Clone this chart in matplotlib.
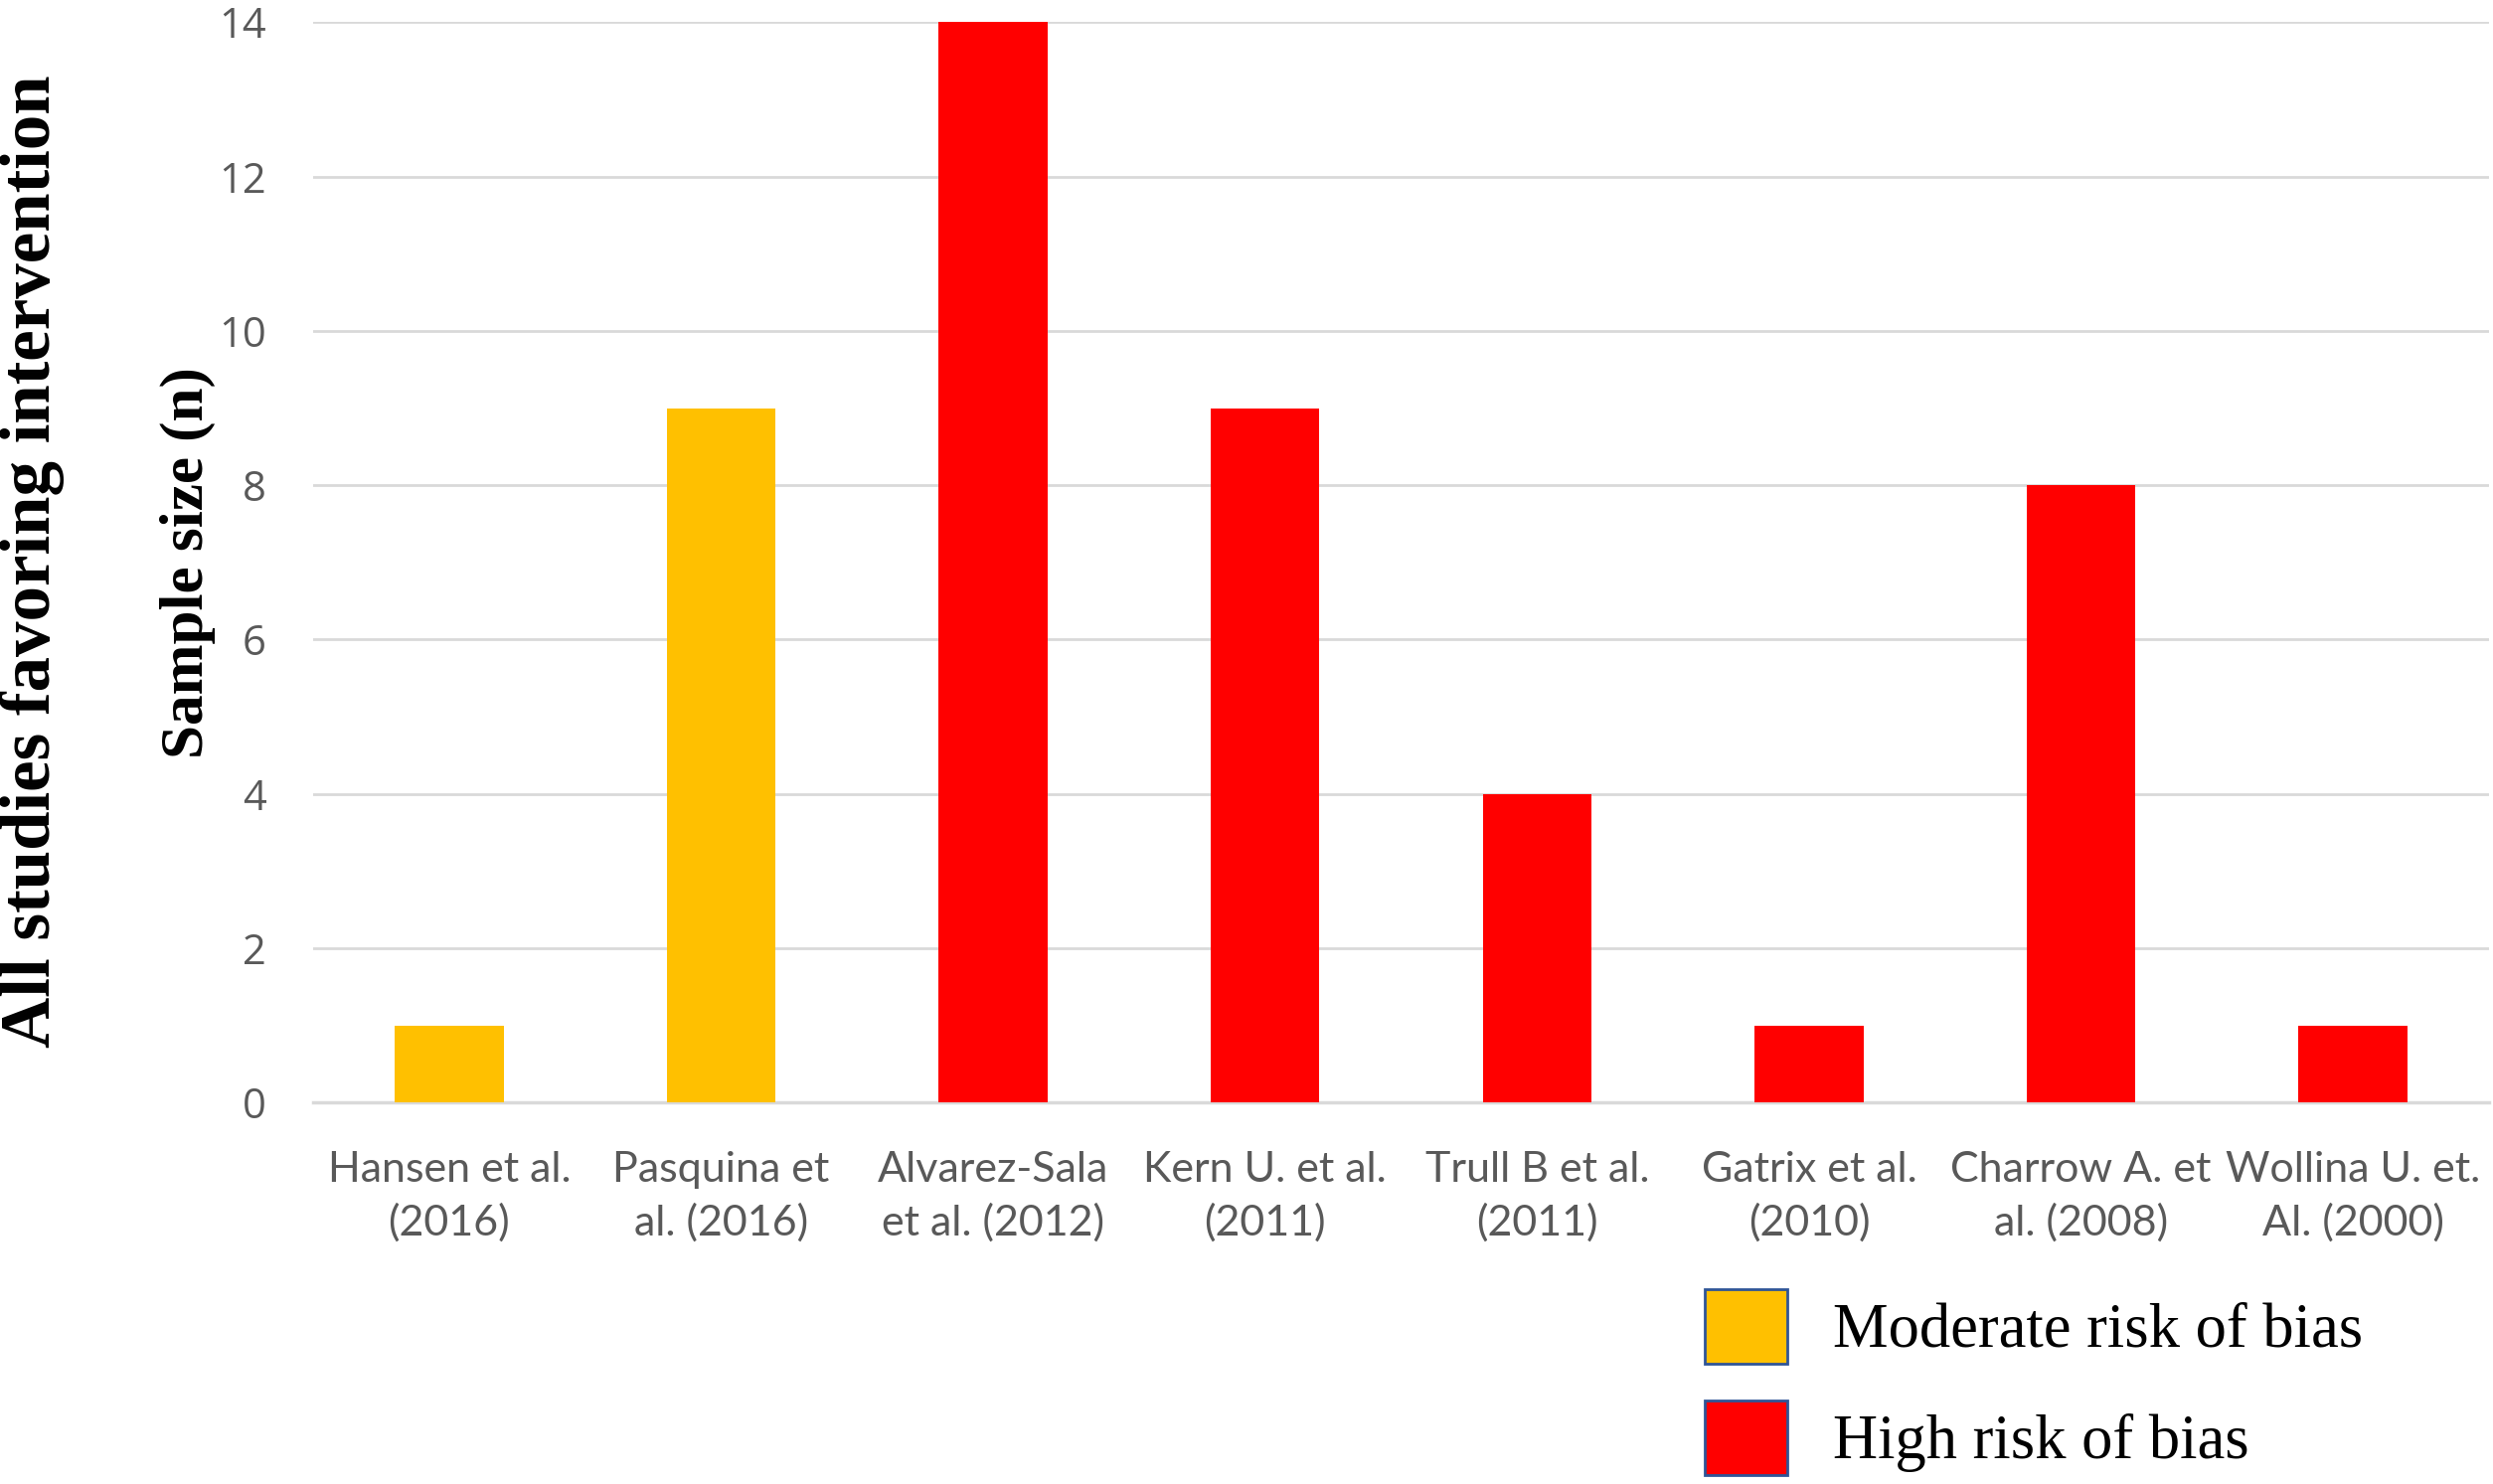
import numpy as np
import matplotlib.pyplot as plt
from matplotlib.patches import Rectangle

studies = ['Hansen et al.\n(2016)', 'Pasquina et\nal. (2016)', 'Alvarez-Sala\net al. (2012)',
           'Kern U. et al.\n(2011)', 'Trull B et al.\n(2011)', 'Gatrix et al.\n(2010)',
           'Charrow A. et\nal. (2008)', 'Wollina U. et.\nAl. (2000)']
sample_size = [1, 9, 14, 9, 4, 1, 8, 1]
risk = ['moderate', 'moderate', 'high', 'high', 'high', 'high', 'high', 'high']

risk_colors = {'moderate': '#FFC000', 'high': '#FF0000'}
risk_labels = {'moderate': 'Moderate risk of bias', 'high': 'High risk of bias'}

fig = plt.figure(figsize=(25.08, 14.93), dpi=100)
ax = fig.add_axes([0.1256, 0.257, 0.8728, 0.728])

x = np.arange(len(studies))
ax.bar(x, sample_size, width=0.4, color=[risk_colors[r] for r in risk], zorder=3)

ax.set_xlim(-0.5, len(studies) - 0.5)
ax.set_ylim(0, 14)
ax.set_yticks(np.arange(0, 15, 2))
ax.yaxis.grid(True, color='#D9D9D9', linewidth=2, zorder=0)
for s in ['top', 'right', 'left']:
    ax.spines[s].set_visible(False)
ax.spines['bottom'].set_color('#D9D9D9')
ax.spines['bottom'].set_linewidth(2.5)
ax.tick_params(length=0)
ax.tick_params(axis='y', pad=34)
ax.tick_params(axis='x', pad=35)

ax.set_xticks(x)
ax.set_xticklabels(studies, fontsize=31, color='#595959', family='Lato', linespacing=1.45)
for t in ax.get_yticklabels():
    t.set_fontsize(30)
    t.set_color('#595959')
    t.set_family('Open Sans')

ax.set_ylabel('Sample size (n)', fontsize=44, fontweight='bold', family='Liberation Serif', va='center')
ax.yaxis.set_label_coords(-0.0577, 0.5)

fig.text(0.0128, 0.622, 'All studies favoring intervention', rotation=90, ha='center', va='center',
         fontsize=51, fontweight='bold', family='Liberation Serif')

# legend drawn by hand, squares at left of the text
legend_rows = [('moderate', 0.106), ('high', 0.031)]
for key, yc in legend_rows:
    fig.patches.append(Rectangle((0.6837, yc - 0.0252), 0.0332, 0.0504, transform=fig.transFigure,
                                 facecolor=risk_colors[key], edgecolor='#2F5597', linewidth=2))
    fig.text(0.7353, yc - 0.003, risk_labels[key], ha='left', va='center', fontsize=45,
             family='Liberation Serif')

fig.savefig('out.png', dpi=100)
